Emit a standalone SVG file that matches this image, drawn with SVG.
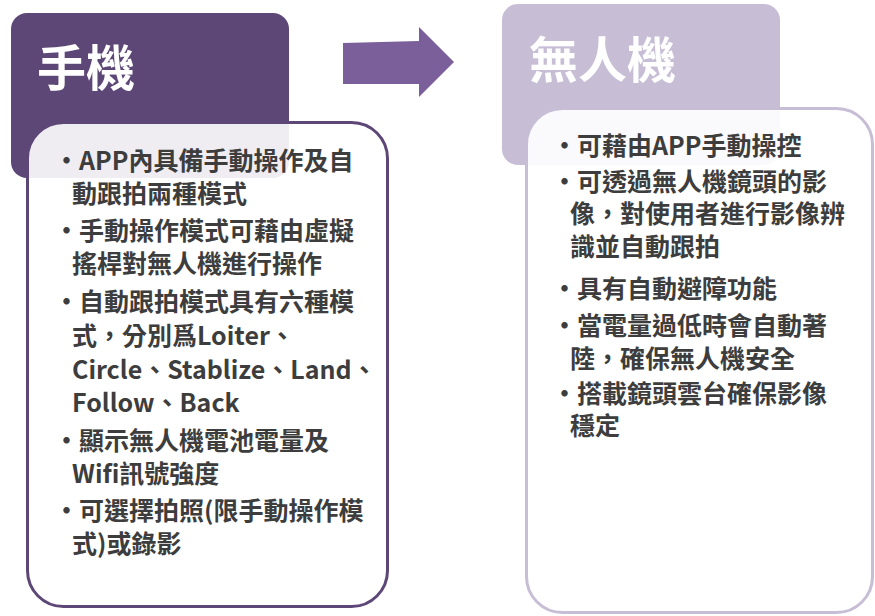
<svg xmlns="http://www.w3.org/2000/svg" width="875" height="616" viewBox="0 0 875 616">
<style>
.title{font-family:"Noto Sans CJK TC","Noto Sans CJK SC",sans-serif;font-weight:700;font-size:49px;fill:#ffffff}
.body{font-family:"Noto Sans CJK TC","Noto Sans CJK SC",sans-serif;font-weight:700;font-size:25px;fill:#3d3d3d}
.card{fill:#ffffff;fill-opacity:0.9;stroke-width:3}
</style>
<rect width="875" height="616" fill="#ffffff"/>
<g id="phone">
<rect x="11" y="13" width="278" height="165" rx="16" fill="#5d4777"/>
<text class="title" x="37" y="86">手機</text>
<rect class="card" x="27.5" y="122.5" width="360" height="484" rx="36" stroke="#5d4777"/>
<text class="body">
<tspan x="54" y="170">·APP內具備手動操作及自</tspan>
<tspan x="72" y="203">動跟拍兩種模式</tspan>
<tspan x="54" y="240">·手動操作模式可藉由虛擬</tspan>
<tspan x="72" y="273">搖桿對無人機進行操作</tspan>
<tspan x="54" y="311">·自動跟拍模式具有六種模</tspan>
<tspan x="72" y="345">式，分別爲Loiter、</tspan>
<tspan x="72" y="379">Circle、Stablize、Land、</tspan>
<tspan x="72" y="412">Follow、Back</tspan>
<tspan x="54" y="450">·顯示無人機電池電量及</tspan>
<tspan x="72" y="483">Wifi訊號強度</tspan>
<tspan x="54" y="520">·可選擇拍照(限手動操作模</tspan>
<tspan x="72" y="553">式)或錄影</tspan>
</text>
</g>
<g id="connectors">
<polygon points="343,43 419,41 419,27 454,62 419,97 419,84 343,84" fill="#7b5f9b"/>
</g>
<g id="drone">
<rect x="502" y="4" width="278" height="161" rx="16" fill="#c7bed6"/>
<text class="title" x="529" y="78">無人機</text>
<rect class="card" x="526.5" y="108.5" width="346" height="504" rx="36" stroke="#c7bed6"/>
<text class="body">
<tspan x="552" y="155">·可藉由APP手動操控</tspan>
<tspan x="552" y="191">·可透過無人機鏡頭的影</tspan>
<tspan x="570" y="223">像，對使用者進行影像辨</tspan>
<tspan x="570" y="256">識並自動跟拍</tspan>
<tspan x="552" y="298">·具有自動避障功能</tspan>
<tspan x="552" y="335">·當電量過低時會自動著</tspan>
<tspan x="570" y="368">陸，確保無人機安全</tspan>
<tspan x="552" y="403">·搭載鏡頭雲台確保影像</tspan>
<tspan x="570" y="435">穩定</tspan>
</text>
</g>
</svg>
